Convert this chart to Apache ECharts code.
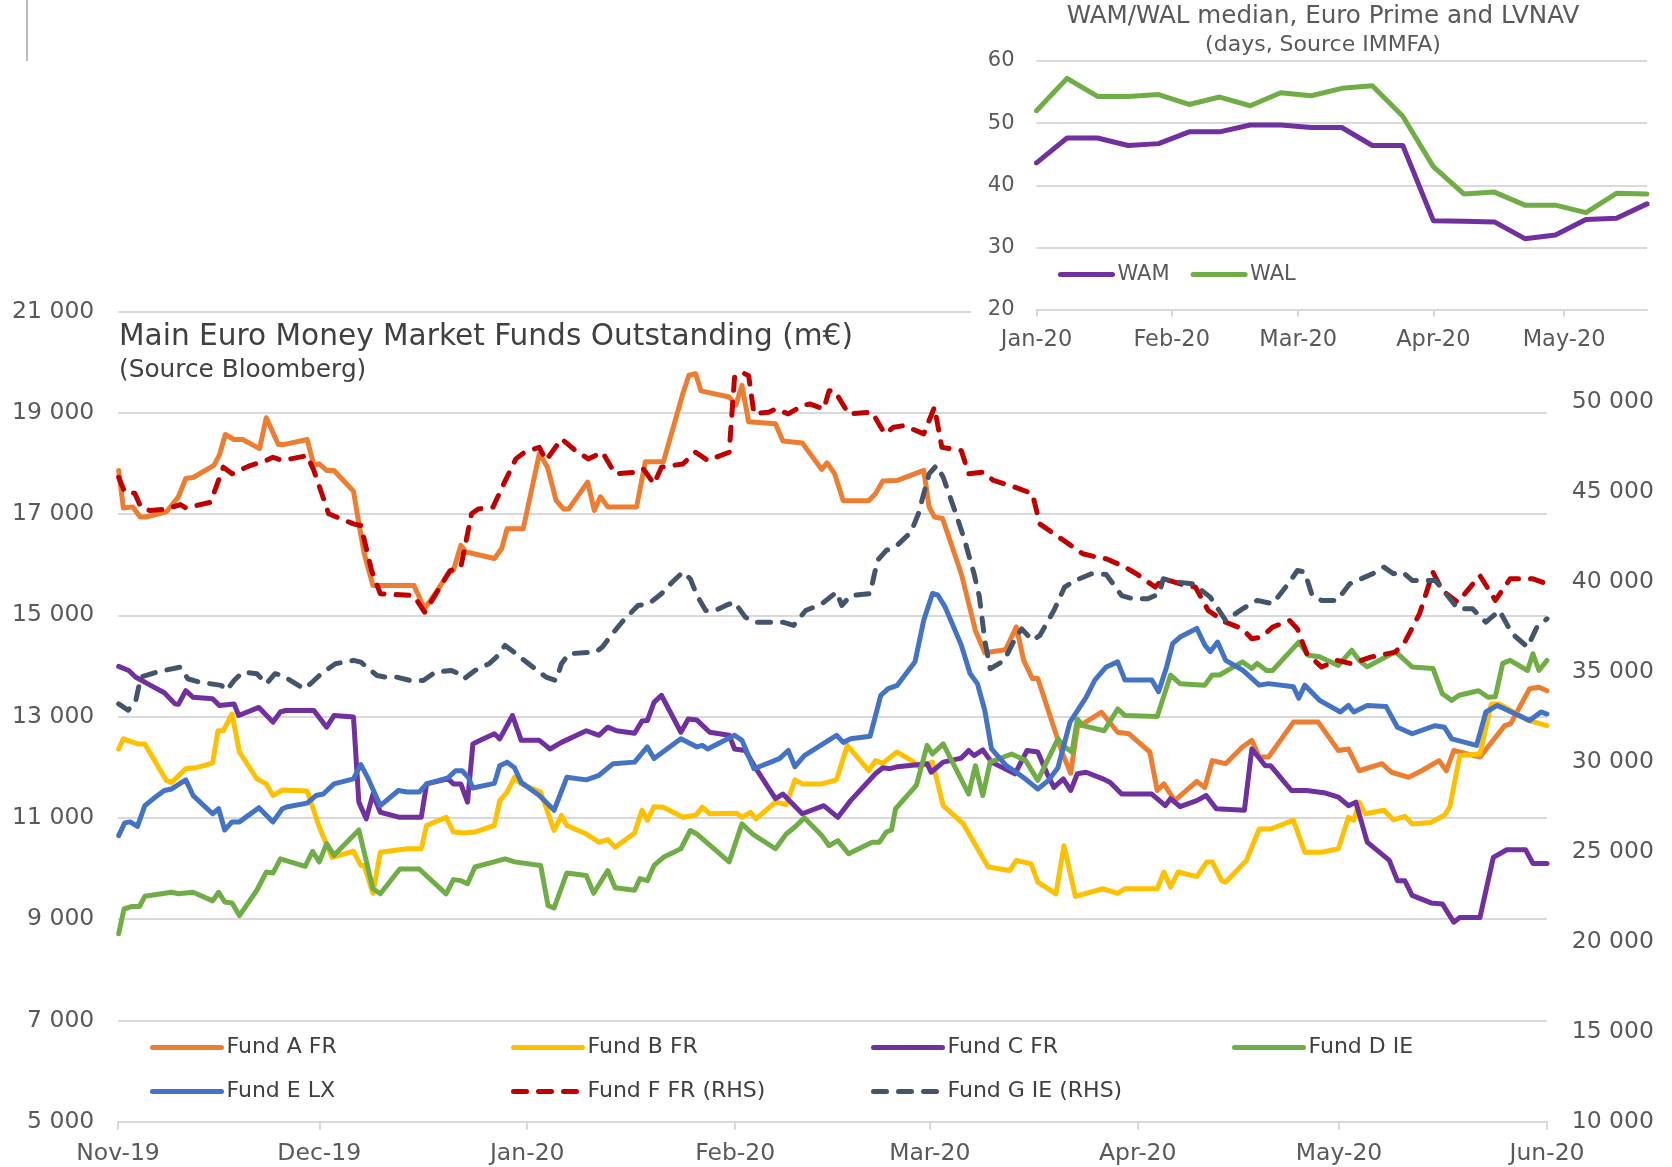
<!DOCTYPE html>
<html>
<head>
<meta charset="utf-8">
<title>Euro Money Market Funds</title>
<script src="https://cdn.jsdelivr.net/npm/echarts@6/dist/echarts.min.js"></script>
<style>
  html, body { margin: 0; padding: 0; background: #fff; }
  #chart { width: 1672px; height: 1167px; }
</style>
</head>
<body>
<div id="chart"></div>
<script>
// x = days since 1 Nov 2019 (main chart), days since 1 Jan 2020 (inset)
var monthDays = [0, 30, 61, 92, 121, 152, 182, 213];
var monthLabels = ['Nov-19', 'Dec-19', 'Jan-20', 'Feb-20', 'Mar-20', 'Apr-20', 'May-20', 'Jun-20'];

var fundA = [[0.1,17860],[0.8,17120],[2.2,17140],[3.3,16940],[4.2,16940],[7.2,17040],[9.0,17340],[10.1,17700],[11.2,17720],[14.3,17960],[15.1,18160],[16.0,18570],[17.3,18470],[18.6,18470],[21.1,18290],[22.1,18900],[23.9,18370],[24.7,18370],[28.2,18470],[29.2,17960],[30.0,17990],[31.1,17860],[32.2,17860],[35.1,17450],[35.9,16810],[36.7,16220],[38.0,15590],[39.1,15590],[44.1,15590],[45.7,15130],[47.6,15490],[49.2,15820],[50.0,15890],[51.1,16380],[51.9,16250],[56.1,16120],[57.2,16320],[58.0,16710],[60.4,16710],[62.8,18190],[64.0,17930],[65.3,17270],[66.4,17100],[67.2,17100],[70.0,17630],[71.0,17070],[71.9,17340],[73.0,17140],[77.3,17140],[78.6,18030],[81.3,18030],[84.2,19380],[85.1,19740],[86.1,19770],[86.9,19430],[91.1,19310],[92.1,19150],[93.0,19540],[94.0,18820],[98.0,18780],[99.1,18440],[102.0,18400],[104.9,17880],[105.7,18010],[106.8,17800],[108.1,17260],[111.9,17260],[112.9,17400],[114.0,17650],[116.1,17660],[120.1,17860],[120.9,17140],[121.7,16940],[122.9,16910],[125.7,15820],[127.8,14700],[129.2,14260],[132.3,14320],[133.9,14770],[135.0,14110],[136.3,13750],[137.1,13750],[139.8,12660],[140.7,12300],[142.0,11880],[143.0,12790],[144.6,12920],[146.6,13085],[149.0,12690],[150.7,12660],[153.8,12300],[154.9,11540],[155.9,11670],[157.5,11340],[160.8,11720],[162.0,11600],[163.1,12130],[165.1,12070],[167.6,12400],[169.0,12530],[170.1,12200],[171.5,12200],[175.2,12890],[178.9,12890],[181.9,12330],[183.4,12360],[185.0,11930],[188.4,12070],[189.8,11900],[192.4,11800],[194.3,11930],[196.9,12130],[198.0,11930],[199.1,12330],[203.0,12200],[206.7,12820],[207.6,12860],[210.4,13550],[211.8,13580],[213.0,13510]];

var fundB = [[0.1,12360],[0.8,12560],[2.9,12460],[4.0,12460],[7.2,11740],[8.0,11700],[10.1,11970],[11.7,11990],[14.1,12080],[14.9,12720],[15.7,12720],[17.0,13050],[18.1,12300],[20.7,11770],[22.1,11670],[23.1,11440],[24.5,11550],[28.2,11530],[30.0,10820],[31.9,10220],[35.1,10340],[36.2,10060],[36.7,10060],[38.0,9510],[39.1,10320],[43.1,10390],[45.2,10390],[46.0,10850],[48.9,11010],[50.0,10720],[51.6,10700],[53.2,10720],[56.1,10850],[56.9,11340],[58.0,11510],[59.1,11800],[60.1,11670],[63.0,11510],[65.0,10750],[66.1,11050],[66.9,10850],[69.8,10680],[71.7,10520],[73.0,10570],[74.1,10420],[77.0,10700],[78.1,11150],[78.9,10950],[79.9,11220],[81.3,11210],[84.2,11010],[86.1,11050],[87.1,11210],[88.2,11080],[92.2,11090],[93.0,11010],[94.3,11110],[95.1,10980],[98.0,11310],[99.6,11260],[100.9,11750],[102.0,11670],[104.9,11670],[107.1,11750],[108.7,12430],[111.9,11930],[112.9,12130],[114.0,12080],[116.1,12300],[118.3,12130],[119.3,12010],[121.4,12100],[123.0,11240],[126.0,10880],[129.7,10030],[132.9,9960],[133.9,10160],[136.1,10090],[137.1,9730],[139.8,9500],[141.0,10450],[142.7,9450],[146.8,9600],[149.0,9510],[150.1,9600],[154.9,9600],[155.9,9930],[156.9,9630],[158.0,9930],[160.8,9840],[162.3,10130],[163.1,10130],[164.5,9760],[165.1,9730],[168.2,10160],[170.1,10780],[171.8,10780],[175.2,10950],[176.9,10320],[179.4,10320],[181.9,10390],[183.4,11010],[184.2,10950],[185.0,11310],[185.9,11080],[188.7,11150],[190.1,10960],[191.8,11030],[192.9,10880],[195.7,10910],[197.7,11050],[198.5,11210],[200.0,12230],[203.0,12260],[204.7,13250],[205.9,13250],[210.1,12930],[213.0,12820]];

var fundC = [[0.1,13990],[1.6,13910],[2.6,13780],[4.8,13620],[6.9,13470],[8.5,13250],[9.0,13240],[10.1,13510],[11.2,13380],[14.1,13350],[15.1,13220],[17.3,13250],[18.0,13020],[21.0,13180],[23.1,12890],[24.2,13090],[25.0,13120],[29.2,13120],[31.1,12790],[32.2,13020],[35.1,12990],[35.9,11310],[37.0,10980],[38.0,11470],[39.1,11110],[42.0,11010],[45.2,11010],[46.0,11670],[49.2,11770],[50.0,11670],[51.1,11670],[52.1,11310],[52.9,12460],[54.0,12530],[56.1,12660],[56.9,12560],[58.8,13020],[60.1,12530],[62.8,12530],[64.4,12360],[66.1,12490],[69.8,12720],[71.7,12630],[73.0,12790],[74.3,12720],[77.0,12670],[78.1,12910],[78.9,12920],[79.9,13280],[81.0,13420],[83.9,12690],[85.0,12950],[86.3,12930],[88.2,12690],[91.1,12630],[91.9,12360],[93.5,12330],[95.1,11970],[98.0,11380],[99.1,11470],[102.0,11080],[105.2,11240],[107.3,11010],[109.2,11340],[112.9,11870],[114.0,11990],[115.1,11970],[116.2,12010],[120.6,12070],[121.2,11900],[123.0,12100],[125.7,12180],[126.8,12330],[127.6,12230],[128.9,12340],[130.2,12100],[133.7,11870],[135.5,12330],[137.1,12300],[138.5,11870],[139.5,11600],[140.9,11770],[142.0,11540],[143.0,11870],[144.3,11900],[146.8,11770],[147.9,11700],[149.6,11470],[154.1,11470],[156.1,11240],[156.9,11380],[158.3,11220],[160.8,11340],[162.2,11440],[163.7,11180],[167.9,11150],[169.0,12360],[171.0,12030],[171.8,12030],[174.9,11540],[177.2,11540],[180.0,11490],[181.9,11410],[183.4,11240],[184.5,11310],[186.2,10520],[189.5,10160],[190.7,9760],[191.8,9760],[192.9,9470],[195.7,9320],[197.4,9300],[199.1,8940],[200.0,9030],[203.0,9030],[205.0,10220],[207.0,10370],[209.8,10370],[210.9,10100],[213.0,10100]];

var fundD = [[0.1,8710],[0.9,9200],[2.1,9250],[3.2,9250],[4.0,9450],[8.0,9530],[9.0,9500],[11.2,9530],[14.1,9360],[15.0,9530],[15.9,9340],[17.0,9320],[18.1,9070],[20.7,9570],[22.1,9930],[23.1,9910],[24.2,10190],[27.9,10040],[29.0,10340],[30.0,10130],[31.1,10490],[32.2,10260],[35.9,10760],[38.0,9600],[39.1,9500],[42.0,9990],[44.9,9990],[48.9,9500],[50.0,9780],[51.1,9760],[52.1,9700],[53.2,10030],[57.7,10190],[59.1,10130],[63.0,10060],[64.1,9270],[65.0,9220],[66.9,9910],[69.8,9860],[70.9,9510],[73.0,9960],[74.1,9620],[77.0,9570],[77.8,9800],[78.9,9760],[79.9,10060],[81.3,10220],[83.9,10390],[85.3,10750],[86.3,10680],[91.1,10130],[93.0,10880],[94.6,10680],[98.0,10390],[99.6,10680],[100.9,10820],[102.3,11000],[104.9,10650],[106.0,10450],[107.3,10550],[108.9,10290],[112.4,10520],[113.5,10520],[114.5,10720],[115.3,10760],[115.9,11180],[119.0,11640],[120.6,12430],[121.4,12260],[123.0,12460],[126.8,11470],[127.8,12030],[128.9,11440],[130.0,12100],[133.2,12260],[135.3,12130],[137.1,11740],[140.1,12560],[141.1,12400],[142.2,12300],[143.0,12950],[143.8,12820],[147.0,12720],[149.0,13150],[150.1,13020],[154.9,13000],[156.9,13820],[158.3,13650],[162.0,13620],[163.1,13820],[164.2,13820],[165.9,13950],[167.6,14080],[169.0,13950],[169.8,14050],[171.2,13910],[172.1,13910],[176.0,14470],[177.4,14210],[179.1,14180],[181.9,14010],[183.9,14310],[185.0,14110],[186.2,13980],[190.4,14280],[192.9,13980],[196.0,13950],[197.4,13450],[198.8,13320],[199.9,13420],[202.8,13510],[204.2,13380],[205.3,13390],[206.4,14050],[207.5,14110],[210.1,13910],[210.9,14240],[211.8,13910],[213.0,14110]];

var fundE = [[0.1,10650],[1.0,10900],[1.8,10920],[2.9,10830],[4.0,11240],[5.3,11380],[6.9,11540],[8.0,11570],[10.1,11750],[11.2,11440],[14.1,11080],[15.0,11180],[15.9,10760],[17.0,10920],[18.1,10920],[21.0,11200],[23.1,10920],[24.5,11180],[25.3,11220],[28.2,11290],[29.5,11440],[30.6,11470],[32.2,11670],[35.1,11770],[36.2,12050],[37.2,11800],[39.1,11240],[41.8,11540],[43.1,11510],[44.9,11510],[46.0,11670],[49.2,11790],[50.3,11930],[51.3,11930],[52.2,11800],[52.9,11590],[56.1,11680],[56.9,12030],[58.0,12100],[59.1,11990],[60.1,11700],[62.8,11440],[65.0,11150],[66.9,11800],[69.8,11750],[71.7,11840],[73.8,12070],[77.0,12100],[78.9,12400],[79.9,12170],[83.9,12560],[86.3,12400],[87.1,12430],[87.9,12360],[91.9,12630],[93.0,12530],[94.8,11970],[98.6,12170],[99.9,12330],[100.9,12010],[102.3,12230],[107.1,12630],[108.1,12490],[109.2,12560],[112.1,12610],[113.7,13420],[114.8,13550],[116.1,13610],[118.8,14080],[120.1,14900],[121.4,15430],[122.2,15400],[123.3,15160],[125.7,14410],[127.0,13850],[128.1,13650],[129.2,13120],[130.2,12360],[132.4,12030],[133.9,11900],[135.5,11740],[137.1,11570],[138.7,11740],[140.1,11990],[141.9,12890],[144.3,13380],[145.6,13720],[147.3,13980],[149.0,14080],[150.1,13720],[154.1,13720],[155.1,13490],[156.3,13980],[157.2,14440],[158.3,14570],[160.8,14740],[162.0,14410],[162.8,14280],[163.9,14470],[165.1,14110],[167.6,13920],[170.1,13620],[171.5,13650],[175.2,13590],[176.0,13360],[176.9,13620],[179.1,13320],[182.2,13090],[183.4,13220],[184.2,13090],[186.2,13220],[189.0,13200],[190.7,12790],[192.9,12660],[196.3,12820],[197.7,12790],[198.8,12560],[202.5,12430],[203.9,13090],[205.6,13220],[210.4,12920],[212.1,13090],[213.0,13050]];

// right-hand axis
var fundF = [[0.1,45790],[1.0,44960],[2.5,44900],[3.4,44130],[4.8,43940],[7.2,44030],[9.3,44270],[10.1,44090],[13.8,44400],[15.7,46350],[17.0,45980],[19.7,46440],[22.1,46720],[23.1,46900],[24.5,46720],[28.2,46990],[29.2,46160],[31.4,43760],[35.1,43200],[36.2,43110],[37.8,40610],[39.1,39320],[44.1,39220],[45.7,38300],[47.1,39130],[49.5,40610],[51.1,40800],[52.7,43760],[53.7,44030],[55.9,44130],[57.5,45420],[59.3,46810],[60.6,47180],[62.8,47450],[63.8,46720],[66.1,47920],[68.2,47270],[70.1,46810],[72.2,47180],[74.1,45980],[77.3,46070],[78.3,46250],[79.9,45420],[81.0,46350],[84.2,46530],[86.1,47180],[87.9,46720],[91.1,47180],[91.9,51340],[93.0,51620],[94.0,51430],[94.8,49310],[97.0,49400],[98.0,49580],[99.9,49310],[102.0,49770],[103.1,49860],[105.2,49580],[106.0,50600],[106.8,50600],[108.9,49310],[112.4,49400],[114.3,48200],[115.6,48570],[117.2,48660],[120.1,48200],[121.7,49680],[122.8,47450],[125.7,47270],[126.8,45980],[128.9,46070],[130.5,45610],[133.7,45240],[136.3,44870],[137.4,43200],[139.5,42650],[141.7,42090],[143.8,41540],[145.9,41350],[147.3,41260],[150.1,40800],[151.8,40430],[154.6,39690],[155.8,40150],[159.1,39780],[160.6,39690],[162.5,38390],[165.1,37740],[167.6,37370],[169.0,36820],[170.4,36910],[172.1,37470],[174.6,37840],[175.8,37370],[177.2,35990],[179.4,35250],[181.7,35620],[183.9,35430],[186.7,35800],[190.4,36080],[191.8,36630],[194.0,38210],[196.0,40520],[197.4,39500],[199.7,38850],[203.0,40330],[205.3,38950],[207.5,40150],[210.9,40150],[213.0,39870]];

var fundG = [[0.1,33200],[1.5,32850],[2.6,33300],[3.4,34690],[5.8,34970],[9.3,35250],[10.4,34600],[12.2,34410],[15.4,34230],[16.2,33950],[17.3,34500],[18.6,34970],[20.7,34880],[22.1,34320],[23.4,34880],[24.5,34780],[27.7,34040],[28.7,34320],[30.3,34880],[32.4,35430],[35.1,35620],[36.2,35520],[38.6,34780],[39.9,34690],[41.5,34690],[43.6,34500],[45.5,34500],[47.3,34970],[49.7,35060],[50.8,34880],[51.6,34600],[53.2,35060],[55.3,35430],[56.4,35800],[57.7,36450],[59.0,36080],[61.2,35430],[63.8,34690],[65.3,34500],[66.1,35430],[67.2,35990],[71.2,36080],[72.2,36360],[73.5,37000],[75.1,37740],[77.5,38670],[79.1,38760],[81.0,39320],[82.6,39960],[84.2,40520],[85.3,40150],[86.3,39220],[87.6,38390],[89.0,38390],[90.6,38670],[91.9,38850],[93.5,38020],[94.8,37740],[99.1,37740],[100.7,37560],[102.5,38390],[104.9,38760],[107.1,39410],[107.9,38670],[109.2,39220],[112.1,39320],[113.2,41170],[114.5,41720],[116.1,42000],[118.2,42740],[119.3,43760],[120.9,45980],[122.0,46440],[123.0,45790],[124.9,43760],[126.2,42280],[127.6,40430],[128.4,39130],[129.2,36730],[130.0,35150],[132.1,35620],[133.7,36820],[134.7,37370],[136.3,36730],[137.4,37000],[139.5,38390],[141.1,39690],[142.7,40060],[145.1,40430],[147.3,40390],[149.6,39220],[151.3,39040],[153.5,39040],[155.2,39320],[155.8,40150],[158.0,39960],[160.3,39870],[162.8,39130],[165.1,37840],[167.6,38480],[169.8,38950],[172.1,38760],[174.6,39960],[175.8,40610],[176.9,40520],[178.0,39220],[179.4,38950],[181.7,38950],[183.6,39870],[185.3,40150],[187.0,40430],[188.7,40800],[190.1,40430],[191.5,40520],[192.9,40060],[196.3,40060],[197.4,39590],[199.7,38480],[201.9,38480],[203.9,37740],[205.9,38390],[207.8,37100],[210.1,36360],[211.5,37470],[213.0,37930]];

// inset: weekly WAM / WAL, days since 1 Jan 2020
var insetMonthDays = [0, 31, 60, 91, 121];
var insetMonthLabels = ['Jan-20', 'Feb-20', 'Mar-20', 'Apr-20', 'May-20'];
var insetDays = [0, 7, 14, 21, 28, 35, 42, 49, 56, 63, 70, 77, 84, 91, 98, 105, 112, 119, 126, 133, 140];
var wam = [43.6, 47.6, 47.6, 46.4, 46.7, 48.6, 48.6, 49.7, 49.7, 49.3, 49.3, 46.4, 46.4, 34.3, 34.2, 34.1, 31.4, 32.0, 34.5, 34.7, 37.0];
var wal = [52.0, 57.2, 54.3, 54.3, 54.6, 53.0, 54.2, 52.8, 54.9, 54.4, 55.6, 56.0, 51.1, 43.0, 38.6, 38.9, 36.8, 36.8, 35.6, 38.7, 38.6];

var FONT = 'DejaVu Sans';
var GRID_COLOR = '#d9d9d9';
var LABEL_COLOR = '#595959';

function thousands(v) {
    return String(v).replace(/\B(?=(\d{3})+(?!\d))/g, ' ');
}

function pairs(xs, ys) {
    return xs.map(function (x, i) { return [x, ys[i]]; });
}

var dash = [13, 12];
var LINE_W = 5;

var funds = [
    { name: 'Fund A FR', data: fundA, color: '#ED7D31', axis: 0, col: 0, row: 0 },
    { name: 'Fund B FR', data: fundB, color: '#FFC000', axis: 0, col: 1, row: 0 },
    { name: 'Fund C FR', data: fundC, color: '#7030A0', axis: 0, col: 2, row: 0 },
    { name: 'Fund D IE', data: fundD, color: '#70AD47', axis: 0, col: 3, row: 0 },
    { name: 'Fund E LX', data: fundE, color: '#4472C4', axis: 0, col: 0, row: 1 },
    { name: 'Fund F FR (RHS)', data: fundF, color: '#C00000', axis: 1, col: 1, row: 1, dashed: true },
    { name: 'Fund G IE (RHS)', data: fundG, color: '#44546A', axis: 1, col: 2, row: 1, dashed: true }
];

var legendLeft = [150, 511, 871, 1232];
var legendTop = [1036.5, 1080.5];

var series = funds.map(function (f) {
    return {
        name: f.name,
        type: 'line',
        xAxisIndex: 0,
        yAxisIndex: f.axis,
        data: f.data,
        symbol: 'none',
        showSymbol: false,
        silent: true,
        z: 2,
        lineStyle: {
            color: f.color,
            width: LINE_W,
            type: f.dashed ? dash : 'solid',
            cap: 'round',
            join: 'round'
        },
        itemStyle: { color: f.color }
    };
});

series.push({
    name: 'WAM', type: 'line', xAxisIndex: 1, yAxisIndex: 2,
    data: pairs(insetDays, wam), symbol: 'none', showSymbol: false, silent: true, z: 5,
    lineStyle: { color: '#7030A0', width: 5, cap: 'round', join: 'round' },
    itemStyle: { color: '#7030A0' }
});
series.push({
    name: 'WAL', type: 'line', xAxisIndex: 1, yAxisIndex: 2,
    data: pairs(insetDays, wal), symbol: 'none', showSymbol: false, silent: true, z: 5,
    lineStyle: { color: '#70AD47', width: 5, cap: 'round', join: 'round' },
    itemStyle: { color: '#70AD47' }
});

var legends = funds.map(function (f) {
    return {
        data: [f.name],
        left: legendLeft[f.col],
        top: legendTop[f.row],
        padding: 0,
        itemWidth: 69,
        itemHeight: 14,
        itemGap: 0,
        selectedMode: false,
        textStyle: { fontFamily: FONT, fontSize: 22, color: '#404040' },
        itemStyle: { opacity: 0 },
        lineStyle: { width: 5, cap: 'round' }
    };
});
legends.push({
    data: ['WAM', 'WAL'],
    left: 1058,
    top: 264,
    padding: 0,
    itemWidth: 52,
    itemHeight: 14,
    itemGap: 21,
    z: 6,
    selectedMode: false,
    textStyle: { fontFamily: FONT, fontSize: 21, color: LABEL_COLOR },
    itemStyle: { opacity: 0 },
    lineStyle: { width: 5, cap: 'round' }
});

var option = {
    animation: false,
    backgroundColor: '#fff',
    textStyle: { fontFamily: FONT },
    grid: [
        { left: 118, right: 125, top: 311.4, bottom: 45.3 },
        { left: 1036.5, right: 25, top: 61, bottom: 857.5 }
    ],
    xAxis: [
        {
            type: 'value', gridIndex: 0, min: 0, max: 213,
            splitLine: { show: false },
            axisLine: { show: true, lineStyle: { color: GRID_COLOR, width: 2 } },
            axisTick: { show: true, customValues: monthDays, length: 8, lineStyle: { color: GRID_COLOR, width: 2 } },
            axisLabel: {
                customValues: monthDays, margin: 20, fontSize: 23.5, color: LABEL_COLOR, fontFamily: FONT,
                formatter: function (v) { var i = monthDays.indexOf(v); return i < 0 ? '' : monthLabels[i]; }
            }
        },
        {
            type: 'value', gridIndex: 1, min: 0, max: 140, z: 4,
            splitLine: { show: false },
            axisLine: { show: true, lineStyle: { color: GRID_COLOR, width: 2 } },
            axisTick: { show: true, customValues: insetMonthDays, length: 7, lineStyle: { color: GRID_COLOR, width: 2 } },
            axisLabel: {
                customValues: insetMonthDays, margin: 19, fontSize: 22.5, color: LABEL_COLOR, fontFamily: FONT,
                formatter: function (v) { var i = insetMonthDays.indexOf(v); return i < 0 ? '' : insetMonthLabels[i]; }
            }
        }
    ],
    yAxis: [
        {
            type: 'value', gridIndex: 0, min: 5000, max: 21000, interval: 2000,
            axisLine: { show: false }, axisTick: { show: false },
            splitLine: { show: true, lineStyle: { color: GRID_COLOR, width: 2 } },
            axisLabel: { margin: 23.7, fontSize: 23.5, color: LABEL_COLOR, fontFamily: FONT, formatter: thousands }
        },
        {
            type: 'value', gridIndex: 0, position: 'right', min: 10000, max: 55000, interval: 5000,
            axisLine: { show: false }, axisTick: { show: false }, splitLine: { show: false },
            axisLabel: {
                margin: 24.7, fontSize: 23.5, color: LABEL_COLOR, fontFamily: FONT,
                formatter: function (v) { return v >= 55000 ? '' : thousands(v); }
            }
        },
        {
            type: 'value', gridIndex: 1, min: 20, max: 60, interval: 10, z: 4,
            axisLine: { show: false }, axisTick: { show: false },
            splitLine: { show: true, lineStyle: { color: GRID_COLOR, width: 2 } },
            axisLabel: { margin: 22, fontSize: 21, color: LABEL_COLOR, fontFamily: FONT }
        }
    ],
    legend: legends,
    series: series,
    graphic: [
        // white panel behind the inset chart
        { type: 'rect', z: 3, silent: true, shape: { x: 971, y: 0, width: 701, height: 352 }, style: { fill: '#fff' } },
        { type: 'line', z: 3, silent: true, shape: { x1: 27, y1: 0, x2: 27, y2: 61 }, style: { stroke: '#a6a6a6', lineWidth: 1.5 } },
        {
            type: 'text', z: 3, silent: true, x: 119, y: 337,
            style: { text: 'Main Euro Money Market Funds Outstanding (m€)', fill: '#404040', font: '29.6px "DejaVu Sans"', textAlign: 'left', textVerticalAlign: 'middle' }
        },
        {
            type: 'text', z: 3, silent: true, x: 119, y: 371,
            style: { text: '(Source Bloomberg)', fill: '#404040', font: '24.8px "DejaVu Sans"', textAlign: 'left', textVerticalAlign: 'middle' }
        },
        {
            type: 'text', z: 6, silent: true, x: 1323, y: 17,
            style: { text: 'WAM/WAL median, Euro Prime and LVNAV', fill: LABEL_COLOR, font: '24.6px "DejaVu Sans"', textAlign: 'center', textVerticalAlign: 'middle' }
        },
        {
            type: 'text', z: 6, silent: true, x: 1323, y: 45,
            style: { text: '(days, Source IMMFA)', fill: LABEL_COLOR, font: '22px "DejaVu Sans"', textAlign: 'center', textVerticalAlign: 'middle' }
        }
    ]
};

var chart = echarts.init(document.getElementById('chart'), null, { renderer: 'canvas' });
chart.setOption(option);
</script>
</body>
</html>
